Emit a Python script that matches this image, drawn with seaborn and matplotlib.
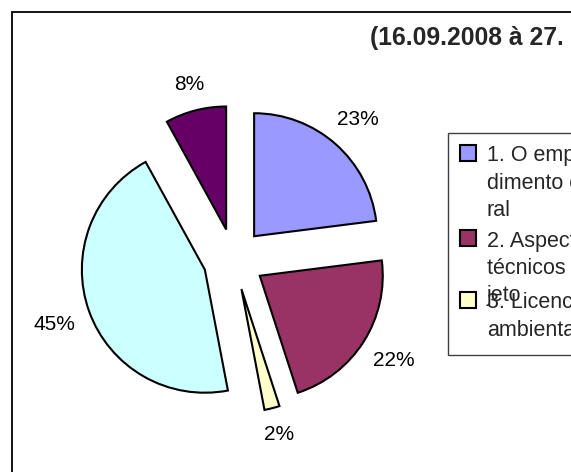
import matplotlib
matplotlib.use("Agg")
import matplotlib.pyplot as plt
import seaborn as sns
import numpy as np
from matplotlib.patches import Rectangle
from matplotlib.transforms import Bbox, TransformedBbox

# Data
categories = ["1. O empreendimento em geral", "2. Aspectos técnicos do projeto",
              "3. Licenciamento ambiental", "4", "5"]
shares = [23, 22, 2, 45, 8]
colors = ["#9999FF", "#993366", "#FFFFCC", "#CCFFFF", "#660066"]
legend_labels = ["1. O empreen\ndimento em ge\nral",
                 "2. Aspectos\ntécnicos do pro\njeto",
                 "3. Licenciamento\nambiental"]
title = "(16.09.2008 à 27.10.2008)"

sns.set_style("white")
plt.rcParams["font.family"] = ["Liberation Sans", "DejaVu Sans"]

W, H = 571, 472
fig = plt.figure(figsize=(W / 100, H / 100), dpi=100)


def fx(px):
    return px / W


def fy(py):
    return 1 - py / H


# outer chart frame (right and bottom edges fall outside the picture)
fig.patches.append(Rectangle((fx(12), -0.1), 1.2, fy(12) + 0.1, transform=fig.transFigure,
                             facecolor="none", edgecolor="black", lw=1.3))

# pie axes
cx, cy = 233.8, 259.3
r = 123.0
ax = fig.add_axes([0, 0, 1, 1])
wedges, _, autotexts = ax.pie(shares, colors=colors, startangle=90, counterclock=False,
                              explode=[0.25] * len(shares), autopct="%1.0f%%", pctdistance=1.25,
                              wedgeprops=dict(edgecolor="black", linewidth=1.5),
                              textprops=dict(fontsize=15, color="black"))
# labels sit a little further out at the sides, like Excel does
for w, t in zip(wedges, autotexts):
    mid = np.deg2rad((w.theta1 + w.theta2) / 2)
    d = 1.19 + 0.12 * abs(np.cos(mid))
    t.set_position((w.center[0] + d * np.cos(mid), w.center[1] + d * np.sin(mid)))
ax.set_aspect("auto")
ax.set_xlim(-cx / r, (W - cx) / r)
ax.set_ylim(-(H - cy) / r, cy / r)
ax.axis("off")

# title, clipped by the chart area like the original
ttl = fig.text(fx(370), fy(38), title, fontsize=17.8, fontweight="bold", ha="left", va="center")
ttl.set_clip_box(TransformedBbox(Bbox([[0, 0], [fx(562), 1]]), fig.transFigure))
ttl.set_clip_on(True)

# legend box, drawn by hand to keep Excel's layout
fig.patches.append(Rectangle((fx(448), fy(355)), 0.5, fy(133) - fy(355), transform=fig.transFigure,
                             facecolor="white", edgecolor="#404040", lw=1.0))
entry_y = [156, 241, 303]
line_h = 27.5
for lab, col, y0 in zip(legend_labels, colors, entry_y):
    fig.patches.append(Rectangle((fx(460), fy(y0 + 5)), fx(16), fy(0) - fy(16),
                                 transform=fig.transFigure, facecolor=col,
                                 edgecolor="black", lw=1.5))
    for i, line in enumerate(lab.split("\n")):
        fig.text(fx(487), fy(y0 + i * line_h), line, fontsize=15.5, ha="left", va="center")

fig.savefig("out.png", dpi=100)
